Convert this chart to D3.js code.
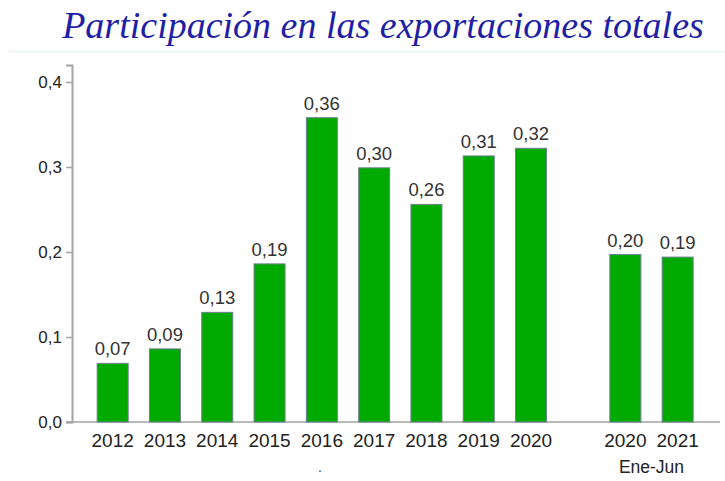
<!DOCTYPE html>
<html><head><meta charset="utf-8">
<script src="https://cdn.jsdelivr.net/npm/d3@7/dist/d3.min.js"></script>
<style>body{margin:0;background:#fff}svg{display:block}</style>
</head><body>
<svg id="chart" width="725" height="481"></svg>
<script>
// ---- data ----
const periods = ["2012","2013","2014","2015","2016","2017","2018","2019","2020","2020 Ene-Jun","2021 Ene-Jun"];
const tickLabels = ["2012","2013","2014","2015","2016","2017","2018","2019","2020","2020","2021"];
const groups = ["anual","anual","anual","anual","anual","anual","anual","anual","anual","ene-jun","ene-jun"];
const values = [0.069,0.086,0.129,0.186,0.358,0.299,0.256,0.313,0.322,0.197,0.194];
const yTicks = [0,0.1,0.2,0.3,0.4];
const groupLabel = "Ene-Jun";
const titleText = "Participación en las exportaciones totales";

// ---- layout ----
const svg = d3.select("#chart");
const es = d3.formatLocale({decimal:",",thousands:".",grouping:[3],currency:["","€"]});
const f1 = es.format(".1f"), f2 = es.format(".2f");
const axisColor = "#a3a3a3";
const sans = "'Liberation Sans',Arial,sans-serif";
const gap = 42;

const x = d3.scaleBand().domain(periods).range([71, 677.3]).paddingInner(0.407).paddingOuter(0.5);
const xPos = (p, i) => x(p) + (groups[i] === "ene-jun" ? gap : 0);
const y = d3.scaleLinear().domain([0, 0.42]).range([422, 65]);

// title
svg.append("text").attr("x", 383).attr("y", 38).attr("text-anchor","middle")
  .attr("font-family","'Liberation Serif','Times New Roman',serif").attr("font-style","italic")
  .attr("font-size", 38).attr("fill","#1f1fa6").text(titleText);
svg.append("line").attr("x1",8).attr("x2",725).attr("y1",51.5).attr("y2",51.5)
  .attr("stroke","#eef4f4").attr("stroke-width",1.5);

// y axis
const yAxis = svg.append("g").attr("transform","translate(72,0)")
  .call(d3.axisLeft(y).tickValues(yTicks).tickFormat(f1).tickSizeOuter(0).tickSize(6).tickPadding(4));
yAxis.select(".domain").attr("stroke",axisColor).attr("stroke-width",2);
yAxis.selectAll(".tick line").attr("stroke",axisColor).attr("stroke-width",1.5);
yAxis.selectAll(".tick text").attr("font-family",sans)
  .attr("font-size",17).attr("fill","#222");

// x axis line
svg.append("line").attr("x1",66).attr("x2",720).attr("y1",y(0)).attr("y2",y(0))
  .attr("stroke",axisColor).attr("stroke-width",1.5);

// bars
svg.append("g").selectAll("rect").data(values).join("rect")
  .attr("x",(d,i)=>xPos(periods[i],i)).attr("width",x.bandwidth())
  .attr("y",d=>y(d)).attr("height",d=>y(0)-y(d))
  .attr("fill","#00aa00").attr("stroke","#6d7f8f").attr("stroke-width",1);

// value labels
svg.append("g").selectAll("text").data(values).join("text")
  .attr("x",(d,i)=>xPos(periods[i],i)+x.bandwidth()/2).attr("y",d=>y(d)-8)
  .attr("text-anchor","middle").attr("font-family",sans)
  .attr("font-size",18.5).attr("fill","#333").text(d=>f2(d));

// x labels
svg.append("g").selectAll("text").data(tickLabels).join("text")
  .attr("x",(d,i)=>xPos(periods[i],i)+x.bandwidth()/2).attr("y",447)
  .attr("text-anchor","middle").attr("font-family",sans)
  .attr("font-size",19).attr("fill","#222").text(d=>d);

const semIdx = groups.map((g,i)=>g==="ene-jun"?i:-1).filter(i=>i>=0);
const semCenter = d3.mean(semIdx, i=>xPos(periods[i],i)+x.bandwidth()/2);
svg.append("text").attr("x",semCenter).attr("y",473).attr("text-anchor","middle")
  .attr("font-family",sans).attr("font-size",17.5).attr("fill","#222")
  .text(groupLabel);

// stray mark below the axis
svg.append("text").attr("x",320).attr("y",472).attr("text-anchor","middle")
  .attr("font-family",sans).attr("font-size",14).attr("fill","#444").text(".");
</script>
</body></html>
